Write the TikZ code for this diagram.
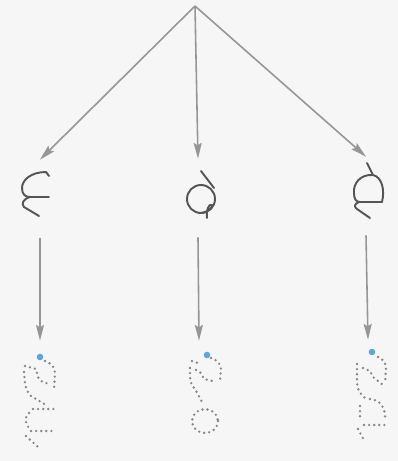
\documentclass[tikz,border=0pt]{standalone}
\usetikzlibrary{arrows.meta,positioning}

\definecolor{paper}{RGB}{246,246,246}
\definecolor{linegray}{RGB}{150,150,150}
\definecolor{inkgray}{RGB}{85,85,85}
\definecolor{dotgray}{RGB}{135,135,135}
\definecolor{startblue}{RGB}{95,165,215}

\begin{document}
\begin{tikzpicture}[
    x=0.02cm, y=-0.02cm,
    branch/.style={draw=linegray, line width=0.9pt, -{Stealth[length=9pt,width=4.6pt,inset=1.5pt]}},
    glyph/.style={draw=inkgray, line width=1.1pt, line cap=round, line join=round},
    trace/.style={draw=dotgray, line width=1.5pt, line cap=round, dash pattern=on 0pt off 2.9pt},
    startdot/.style={fill=startblue},
    slot/.style={inner sep=0pt, minimum width=0.7cm, minimum height=1.56cm},
    tracebox/.style={inner sep=0pt, minimum width=0.7cm, minimum height=2.2cm}
]
    \fill[paper] (0,0) rectangle (398,461);
    \useasboundingbox (0,0) rectangle (398,461);

    % --- Root and slots ---
    \coordinate (root) at (195,6);
    \node[slot] (up1) at (40,199) {};
    \node[slot] (up2) at (198,198) {};
    \node[slot] (up3) at (366,196) {};
    \node[tracebox] (dn1) at (40,396) {};
    \node[tracebox] (dn2) at (199,396) {};
    \node[tracebox] (dn3) at (368,395) {};

    % --- Arrows ---
    \foreach \i in {1,2,3} {
        \draw[branch] (root) -- (up\i.north);
        \draw[branch] (up\i.south) -- (dn\i.north);
    }

    % --- Written letters ---
    \draw[glyph] (49,176) -- (46,172) .. controls (31,172) and (22,180) .. (22,188)
        .. controls (22,194) and (25,197) .. (30,197) -- (49,197);
    \draw[glyph] (30,197) .. controls (23,199) and (21,204) .. (24,207) -- (39,216);

    \draw[glyph] (201,171) -- (214,188);
    \draw[glyph] (201,199) circle[radius=14];
    \draw[glyph] (201,213) .. controls (206,213) and (214,207) .. (212,205)
        .. controls (209,203) and (206,210) .. (207,218);

    \draw[glyph] (367,163) -- (373,175) .. controls (360,174) and (353,184) .. (354,193)
        .. controls (354,199) and (356,202) .. (360,202) -- (382,202)
        .. controls (385,190) and (382,177) .. (373,175);
    \draw[glyph] (359,202) .. controls (354,204) and (354,207) .. (357,209) -- (370,218);

    % --- Dotted letters ---
    \fill[startdot] (40,357) circle[radius=3.3];
    \draw[trace] (45,361) .. controls (51,363) and (55,367) .. (55,373) -- (54,389);
    \draw[trace] (25,366) -- (36,369) -- (38,377) .. controls (40,382) and (46,384) .. (50,383);
    \draw[trace] (24,372) -- (25,383) .. controls (26,389) and (27,392) .. (31,396) -- (46,405);
    \draw[trace] (33,409) -- (54,409);
    \draw[trace] (29,413) .. controls (24,417) and (25,424) .. (29,428);
    \draw[trace] (31,431) -- (54,431);
    \draw[trace] (26,436) -- (38,447);

    \fill[startdot] (207,355) circle[radius=3.3];
    \draw[trace] (211,358) .. controls (217,360) and (221,364) .. (221,369) -- (220,381);
    \draw[trace] (192,361) -- (201,364);
    \draw[trace] (190,368) -- (190,376) .. controls (190,382) and (192,386) .. (195,389) -- (202,402);
    \draw[trace] (196,370) -- (201,373) -- (204,379) -- (212,381);
    \draw[trace] (205,421) ellipse[x radius=13, y radius=12];

    \fill[startdot] (372,352) circle[radius=3.3];
    \draw[trace] (378,357) .. controls (383,359) and (386,363) .. (386,368) -- (385,384);
    \draw[trace] (357,364) -- (357,380) .. controls (357,388) and (359,392) .. (362,395) -- (367,400);
    \draw[trace] (363,368) -- (370,371) -- (373,377) -- (378,381) -- (383,385);
    \draw[trace] (370,399) .. controls (380,400) and (386,407) .. (385,421);
    \draw[trace] (360,406) -- (360,421);
    \draw[trace] (364,425) -- (386,425);
    \draw[trace] (358,429) -- (365,442);

\end{tikzpicture}
\end{document}
